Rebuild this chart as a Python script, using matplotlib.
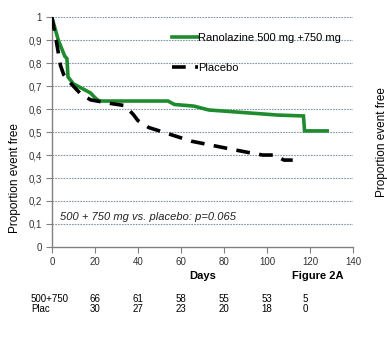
import matplotlib
matplotlib.use("Agg")
import matplotlib.pyplot as plt
import matplotlib.transforms as mtransforms

plt.rcParams['font.family'] = ['Liberation Sans', 'DejaVu Sans']

# Kaplan-Meier style curves (days, proportion event free)
rano_days = [0, 3, 6, 7, 7.5, 10, 14, 18, 20, 22, 54, 57, 66, 73, 105, 117, 117.5, 128]
rano_vals = [1.0, 0.9, 0.83, 0.82, 0.74, 0.71, 0.69, 0.67, 0.65, 0.635, 0.635, 0.62,
             0.613, 0.596, 0.574, 0.57, 0.505, 0.505]
plac_days = [0, 2, 4, 5.5, 9, 13, 18, 27, 34, 38, 40, 45, 55, 65, 81, 92, 98, 103, 108, 112]
plac_vals = [1.0, 0.9, 0.79, 0.75, 0.71, 0.67, 0.64, 0.625, 0.615, 0.575, 0.55, 0.52,
             0.49, 0.46, 0.43, 0.41, 0.40, 0.40, 0.378, 0.378]

x_ticks = [0, 20, 40, 60, 80, 100, 120, 140]
y_ticks = [0, 0.1, 0.2, 0.3, 0.4, 0.5, 0.6, 0.7, 0.8, 0.9, 1.0]
y_tick_labels = ['0', '0,1', '0,2', '0,3', '0,4', '0,5', '0,6', '0,7', '0,8', '0,9', '1']

risk_days = [20, 40, 60, 80, 100, 118]
risk_rano = [66, 61, 58, 55, 53, 5]
risk_plac = [30, 27, 23, 20, 18, 0]

fig = plt.figure(figsize=(3.87, 3.43), dpi=100)
ax = fig.add_axes([0.134, 0.280, 0.778, 0.670])

for y in y_ticks[1:]:
    ax.axhline(y, color='#8595a8', lw=0.8, ls=(0, (1.5, 1.0)), zorder=1)

green = '#1e8c2e'
ax.plot(rano_days, rano_vals, color=green, lw=2.6, zorder=3,
        label='Ranolazine 500 mg +750 mg', solid_joinstyle='miter')
ax.plot(plac_days, plac_vals, color='black', lw=2.6, ls=(0, (3.8, 2.6)), zorder=3,
        label='Placebo')

ax.set_xlim(0, 140)
ax.set_ylim(0, 1.0)
ax.set_xticks(x_ticks)
ax.set_xticklabels([str(t) for t in x_ticks])
ax.set_yticks(y_ticks)
ax.set_yticklabels(y_tick_labels)
for s in ['top', 'right']:
    ax.spines[s].set_visible(False)
for s in ['left', 'bottom']:
    ax.spines[s].set_color('#808080')
    ax.spines[s].set_linewidth(1.0)
ax.tick_params(axis='both', direction='out', length=4, width=0.8, color='#808080',
               labelsize=7, labelcolor='#333333', pad=3)

ax.set_ylabel('Proportion event free', fontsize=8.5)
ax.yaxis.set_label_coords(-0.103, 0.30)

leg = ax.legend(loc='upper left', bbox_to_anchor=(0.385, 0.952), frameon=False,
                fontsize=8, handlelength=2.3, handletextpad=0.0, labelspacing=1.85,
                borderaxespad=0)

ax.text(3.8, 0.13, '500 + 750 mg vs. placebo: p=0.065', fontsize=8, style='italic',
        color='#222222', va='center', ha='left')

# labels below axis
fig.text(203 / 387, 1 - 276 / 343, 'Days', fontsize=8, fontweight='bold', ha='center', va='center')
fig.text(318 / 387, 1 - 276 / 343, 'Figure 2A', fontsize=8, fontweight='bold', ha='center', va='center')

trans = mtransforms.blended_transform_factory(ax.transData, fig.transFigure)
fig.text(31 / 387, 1 - 299 / 343, '500+750', fontsize=7, ha='left', va='center')
fig.text(31 / 387, 1 - 309 / 343, 'Plac', fontsize=7, ha='left', va='center')
for d, r, p in zip(risk_days, risk_rano, risk_plac):
    ax.text(d, 1 - 299 / 343, str(r), transform=trans, fontsize=7, ha='center', va='center')
    ax.text(d, 1 - 309 / 343, str(p), transform=trans, fontsize=7, ha='center', va='center')

# cut-off label of neighbouring panel at right edge
fig.text(382 / 387, 1 - 142 / 343, 'Proportion event free', fontsize=8.5, rotation=90,
         ha='center', va='center')

fig.savefig('out.png', dpi=100)
